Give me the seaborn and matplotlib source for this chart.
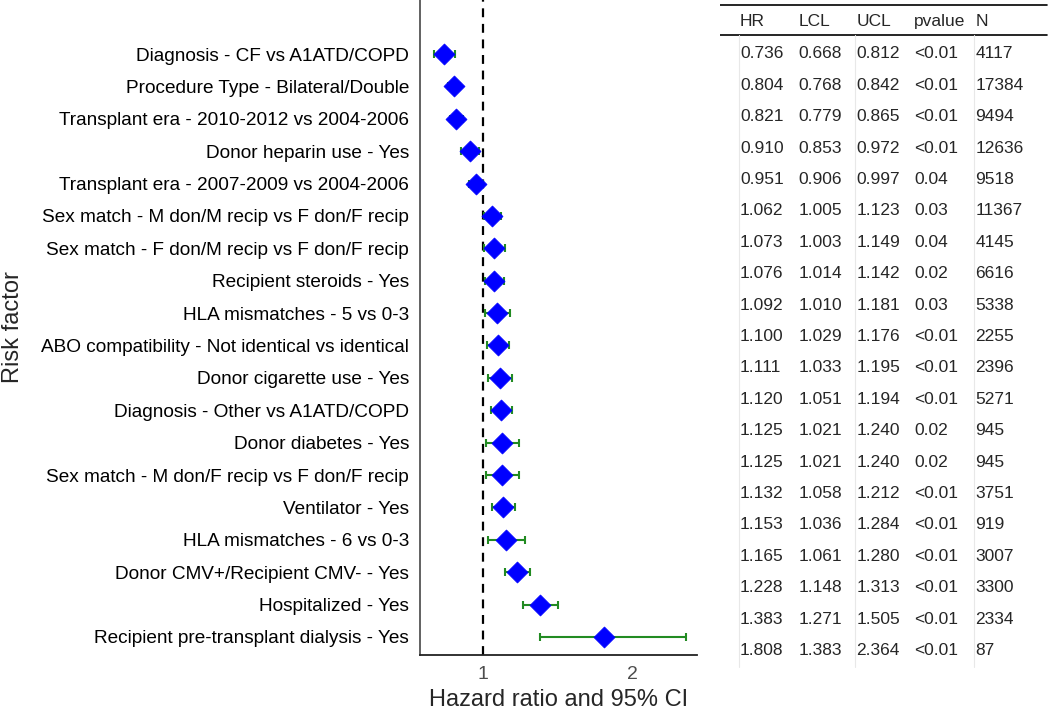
import numpy as np
import pandas as pd
import matplotlib
matplotlib.use("Agg")
import matplotlib.pyplot as plt
import seaborn as sns

factors = [
    "Diagnosis - CF vs A1ATD/COPD",
    "Procedure Type - Bilateral/Double",
    "Transplant era - 2010-2012 vs 2004-2006",
    "Donor heparin use - Yes",
    "Transplant era - 2007-2009 vs 2004-2006",
    "Sex match - M don/M recip vs F don/F recip",
    "Sex match - F don/M recip vs F don/F recip",
    "Recipient steroids - Yes",
    "HLA mismatches - 5 vs 0-3",
    "ABO compatibility - Not identical vs identical",
    "Donor cigarette use - Yes",
    "Diagnosis - Other vs A1ATD/COPD",
    "Donor diabetes - Yes",
    "Sex match - M don/F recip vs F don/F recip",
    "Ventilator - Yes",
    "HLA mismatches - 6 vs 0-3",
    "Donor CMV+/Recipient CMV- - Yes",
    "Hospitalized - Yes",
    "Recipient pre-transplant dialysis - Yes",
]
hr = [0.736, 0.804, 0.821, 0.910, 0.951, 1.062, 1.073, 1.076, 1.092, 1.100,
      1.111, 1.120, 1.125, 1.125, 1.132, 1.153, 1.165, 1.228, 1.383, 1.808]
lcl = [0.668, 0.768, 0.779, 0.853, 0.906, 1.005, 1.003, 1.014, 1.010, 1.029,
       1.033, 1.051, 1.021, 1.021, 1.058, 1.036, 1.061, 1.148, 1.271, 1.383]
ucl = [0.812, 0.842, 0.865, 0.972, 0.997, 1.123, 1.149, 1.142, 1.181, 1.176,
       1.195, 1.194, 1.240, 1.240, 1.212, 1.284, 1.280, 1.313, 1.505, 2.364]
pvalue = ["<0.01", "<0.01", "<0.01", "<0.01", "0.04", "0.03", "0.04", "0.02", "0.03", "<0.01",
          "<0.01", "<0.01", "0.02", "0.02", "<0.01", "<0.01", "<0.01", "<0.01", "<0.01", "<0.01"]
n_obs = [4117, 17384, 9494, 12636, 9518, 11367, 4145, 6616, 5338, 2255,
         2396, 5271, 945, 945, 3751, 919, 3007, 3300, 2334, 87]

# the table has one row more than the forest plot; these are the plotted rows
plot_idx = [0, 1, 2, 3, 4, 5, 6, 7, 8, 9, 10, 11, 12, 13, 14, 15, 17, 18, 19]

sns.set_style("white")
plt.rcParams["font.family"] = ["Liberation Sans", "DejaVu Sans"]

df = pd.DataFrame({
    "factor": factors,
    "hr": [hr[i] for i in plot_idx],
    "lcl": [lcl[i] for i in plot_idx],
    "ucl": [ucl[i] for i in plot_idx],
})
df["pos"] = np.arange(len(df))

fig = plt.figure(figsize=(10.5, 7.12), dpi=100)
ax = fig.add_axes([0.4, 0.08, 0.264, 0.92])

ax.axvline(1, color="black", linestyle=(0, (4, 3)), linewidth=1.6, zorder=1)
ax.errorbar(df["hr"], df["pos"], xerr=[df["hr"] - df["lcl"], df["ucl"] - df["hr"]],
            fmt="none", ecolor="#228b22", elinewidth=1.5, capsize=3, capthick=1.5, zorder=2)
sns.scatterplot(data=df, x="hr", y="pos", marker="D", s=115, color="blue",
                edgecolor="blue", linewidth=0.5, ax=ax, zorder=3, legend=False)

ax.set_ylim(18.56, -1.67)
ax.set_xlim(0.577, 2.436)
ax.set_yticks(df["pos"])
ax.set_yticklabels(df["factor"], fontsize=13.7, color="black")
ax.set_xticks([1, 2])
ax.set_xticklabels(["1", "2"], fontsize=14, color="#4d4d4d")
ax.tick_params(axis="y", length=0, pad=8)
ax.tick_params(axis="x", length=5, width=1.2, color="#333333", pad=3)
for side in ["top", "right"]:
    ax.spines[side].set_visible(False)
ax.spines["left"].set_color("#555555")
ax.spines["left"].set_linewidth(1.3)
ax.spines["bottom"].set_color("#222222")
ax.spines["bottom"].set_linewidth(1.3)
ax.set_xlabel("Hazard ratio and 95% CI", fontsize=17, labelpad=4)
ax.set_ylabel("Risk factor", fontsize=17)
ax.yaxis.set_label_coords(-1.43, 0.5)

# results table
tab = fig.add_axes([0.686, 0.0, 0.314, 1.0])
tab.set_xlim(0, 1)
tab.set_ylim(20.96, -1.72)
tab.axis("off")
cols = ["HR", "LCL", "UCL", "pvalue", "N"]
col_x = [0.06, 0.238, 0.412, 0.588, 0.773]
rows = list(zip([f"{v:.3f}" for v in hr], [f"{v:.3f}" for v in lcl],
                [f"{v:.3f}" for v in ucl], pvalue, [str(v) for v in n_obs]))
tab.plot([0, 0.99], [-1.56, -1.56], color="black", linewidth=1.2)
tab.plot([0, 0.99], [-0.6, -0.6], color="black", linewidth=1.2)
for cx in [col_x[0], col_x[2], col_x[4]]:
    tab.plot([cx - 0.003, cx - 0.003], [-0.6, 19.52], color="#e8e8e8", linewidth=0.8)
for cx, name in zip(col_x, cols):
    tab.text(cx, -1.03, name, fontsize=12.5, va="center", ha="left")
for r, vals in enumerate(rows):
    for cx, v in zip(col_x, vals):
        tab.text(cx, r, v, fontsize=12.5, va="center", ha="left")

fig.savefig("out.png", dpi=100)
